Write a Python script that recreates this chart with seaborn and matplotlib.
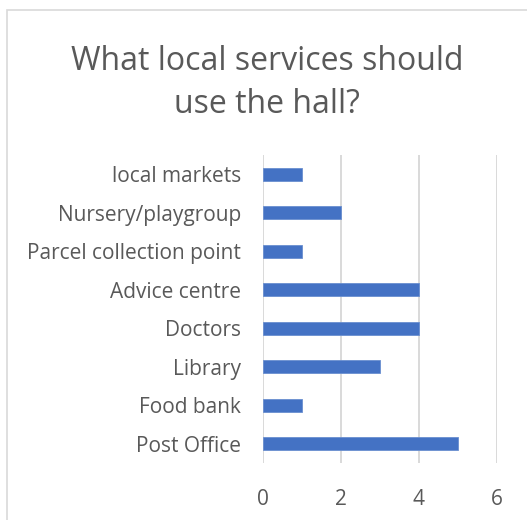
import matplotlib
matplotlib.use("Agg")
import matplotlib.pyplot as plt
import matplotlib.patches as mpatches
import seaborn as sns
import pandas as pd

services = ["local markets", "Nursery/playgroup", "Parcel collection point",
            "Advice centre", "Doctors", "Library", "Food bank", "Post Office"]
counts = [1, 2, 1, 4, 4, 3, 1, 5]
x_ticks = [0, 2, 4, 6]

df = pd.DataFrame({"service": services, "count": counts})

sns.set_theme(style="white")
plt.rcParams["font.family"] = ["Open Sans", "DejaVu Sans"]

text_color = "#595959"
grid_color = "#D9D9D9"
bar_color = "#4472C4"

fig = plt.figure(figsize=(5.27, 5.20), dpi=100)
ax = fig.add_axes([0.499, 0.110, 0.444, 0.592])

sns.barplot(data=df, x="count", y="service", orient="h", color=bar_color,
            width=0.34, saturation=1, edgecolor="#6A8FD0", linewidth=0.6, ax=ax)

ax.set_xlim(0, 6)
ax.set_xticks(x_ticks)
ax.set_xticklabels([str(t) for t in x_ticks], fontsize=15, color=text_color)
ax.tick_params(axis="x", length=0, pad=19)
ax.tick_params(axis="y", length=0, pad=16, labelsize=15, labelcolor=text_color)
ax.set_xlabel("")
ax.set_ylabel("")
ax.grid(axis="x", color=grid_color, linewidth=1.4)
ax.set_axisbelow(True)
for s in ax.spines.values():
    s.set_visible(False)

fig.text(0.507, 0.841, "What local services should\nuse the hall?", ha="center",
         va="center", fontsize=23, color=text_color, linespacing=1.4)

border = mpatches.Rectangle((0.0133, -0.1), 1.2, 0.1 + 0.981, transform=fig.transFigure,
                            fill=False, edgecolor=grid_color, linewidth=1.2)
fig.patches.append(border)

fig.savefig("out.png", dpi=100)
